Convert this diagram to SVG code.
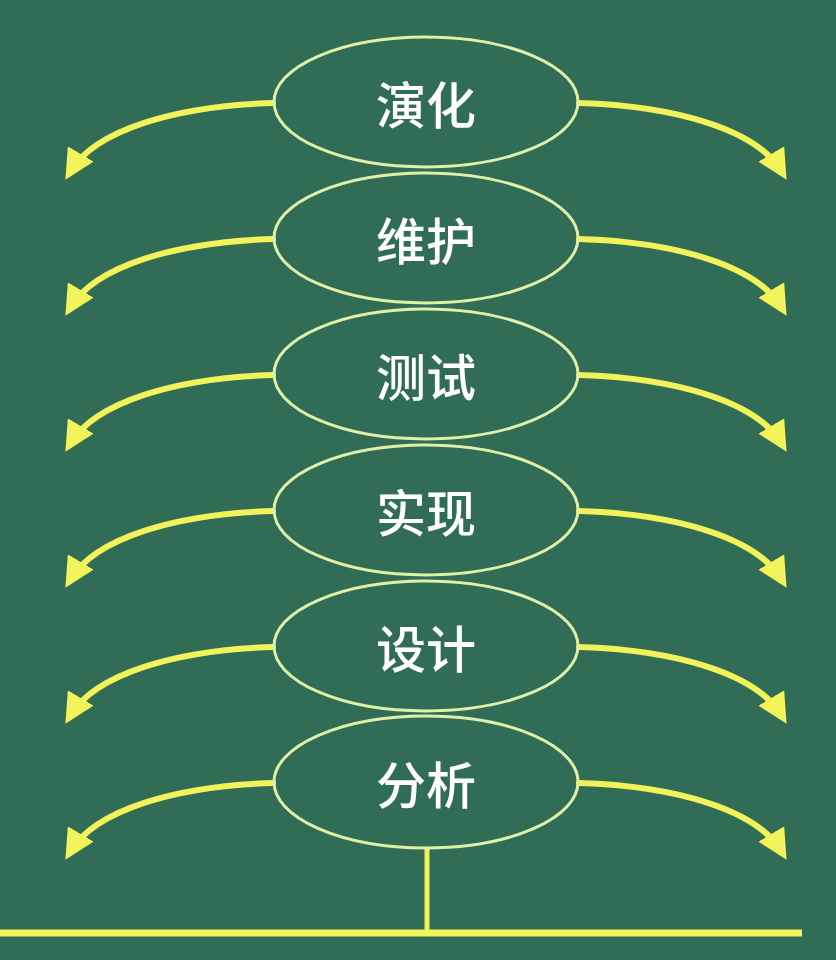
<svg xmlns="http://www.w3.org/2000/svg" width="836" height="960" viewBox="0 0 836 960">
<defs>
<marker id="ah" viewBox="0 0 10 10" refX="7" refY="5" markerWidth="5" markerHeight="5" markerUnits="strokeWidth" orient="auto">
<path d="M0,0 L10,5 L0,10 Z" fill="#f2f25a"/>
</marker>
<style>
.n ellipse{fill:none;stroke:#dff0a8;stroke-width:3}
.n text{fill:#ffffff;font-family:"Noto Sans CJK SC","Noto Sans",sans-serif;font-size:50px;font-weight:500;text-anchor:middle;dominant-baseline:central}
.c path{fill:none;stroke:#f2f25a;stroke-width:6;stroke-linecap:round;marker-end:url(#ah)}
.c line{stroke:#f2f25a;stroke-width:5}
</style>
</defs>
<rect width="836" height="960" fill="#316c56"/>
<g id="connectors" class="c">
<path d="M273,103 C175,106 95,130 70,172"/>
<path d="M579,103 C677,106 757,130 782,172"/>
<path d="M273,239 C175,242 95,266 70,308"/>
<path d="M579,239 C677,242 757,266 782,308"/>
<path d="M273,375 C175,378 95,402 70,444"/>
<path d="M579,375 C677,378 757,402 782,444"/>
<path d="M273,511 C175,514 95,538 70,580"/>
<path d="M579,511 C677,514 757,538 782,580"/>
<path d="M273,647 C175,650 95,674 70,716"/>
<path d="M579,647 C677,650 757,674 782,716"/>
<path d="M273,783 C175,786 95,810 70,852"/>
<path d="M579,783 C677,786 757,810 782,852"/>
<line x1="427" y1="849" x2="427" y2="933"/>
<line x1="0" y1="933" x2="802" y2="933" style="stroke-width:7"/>
</g>
<g id="n1" class="n"><ellipse cx="426" cy="102" rx="152" ry="65"/><text x="426" y="102">演化</text></g>
<g id="n2" class="n"><ellipse cx="426" cy="238" rx="152" ry="65"/><text x="426" y="238">维护</text></g>
<g id="n3" class="n"><ellipse cx="426" cy="374" rx="152" ry="65"/><text x="426" y="374">测试</text></g>
<g id="n4" class="n"><ellipse cx="426" cy="510" rx="152" ry="65"/><text x="426" y="510">实现</text></g>
<g id="n5" class="n"><ellipse cx="426" cy="646" rx="152" ry="65"/><text x="426" y="646">设计</text></g>
<g id="n6" class="n"><ellipse cx="426" cy="782" rx="152" ry="66"/><text x="426" y="782">分析</text></g>
</svg>
